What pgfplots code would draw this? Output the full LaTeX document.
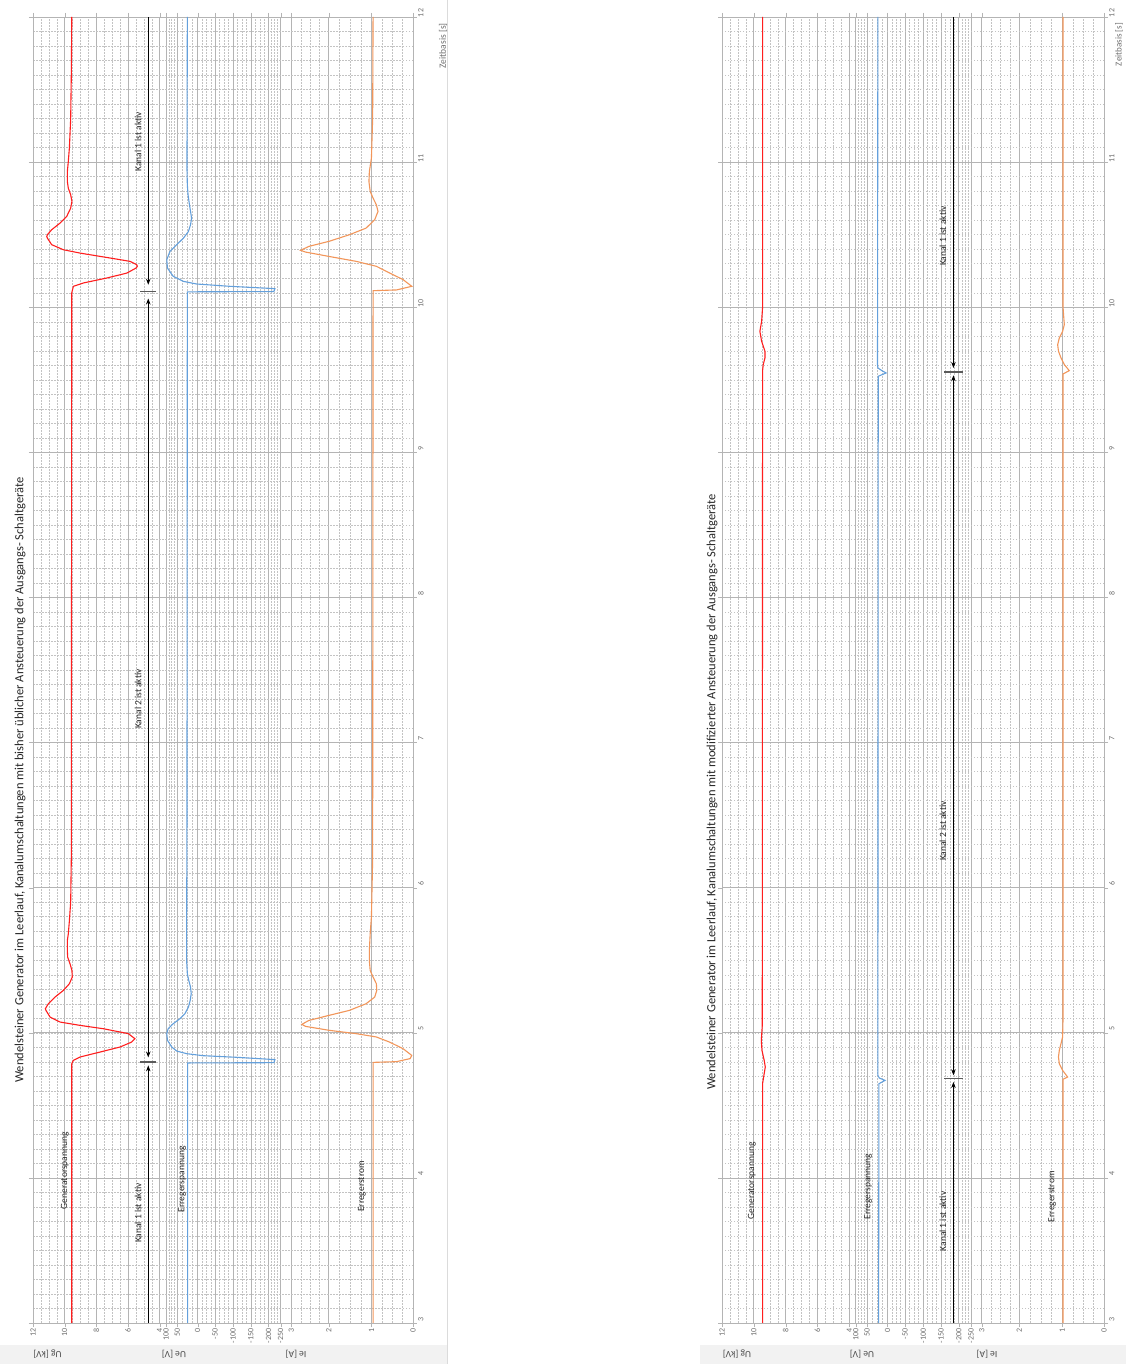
\documentclass[border=0pt]{standalone}
\usepackage{pgfplots}
\pgfplotsset{compat=1.18}
\usepackage{pgfplotstable}
\usepackage{fontspec}
\setmainfont{Carlito}
\usetikzlibrary{arrows.meta}
\definecolor{ugred}{RGB}{255,30,30}
\definecolor{ueblue}{RGB}{100,160,220}
\definecolor{ieorange}{RGB}{242,150,90}
\definecolor{gridmaj}{RGB}{180,180,180}
\definecolor{gridmin}{RGB}{195,195,195}
\definecolor{ticktext}{RGB}{110,110,110}
\definecolor{barcol}{RGB}{90,90,90}
\definecolor{framegray}{RGB}{242,242,242}

% ---------- left chart data ----------
\pgfplotstableread{
t v
3.000 9.55
4.787 9.55
4.810 9.45
4.833 9.03
4.867 7.77
4.902 6.50
4.936 5.77
4.959 5.56
4.994 5.98
5.028 7.56
5.051 9.03
5.074 10.29
5.108 10.92
5.154 11.18
5.166 11.22
5.200 11.03
5.246 10.61
5.292 10.08
5.338 9.70
5.384 9.52
5.429 9.54
5.475 9.66
5.521 9.81
5.567 9.83
5.636 9.83
5.682 9.77
5.774 9.70
5.900 9.62
6.200 9.58
10.100 9.55
10.144 9.45
10.167 8.82
10.201 7.35
10.235 6.08
10.270 5.49
10.282 5.41
10.293 5.45
10.316 5.87
10.339 7.13
10.373 9.03
10.396 10.08
10.431 10.82
10.476 11.09
10.488 11.13
10.500 11.09
10.534 10.82
10.580 10.29
10.626 9.87
10.683 9.62
10.729 9.54
10.775 9.62
10.820 9.77
10.866 9.83
10.935 9.83
11.004 9.77
11.100 9.70
11.300 9.62
11.600 9.58
12.000 9.55
}\lUg

\pgfplotstableread{
t v
3.000 29
4.792 29
4.794 -214
4.815 -217
4.831 -109
4.842 -15
4.856 32
4.874 60
4.902 74
4.948 86
4.994 88
5.028 84
5.062 70
5.097 51
5.131 37
5.177 27
5.223 22
5.269 19
5.315 21
5.361 26
5.407 30
5.498 32
5.682 32
6.500 31
10.106 30
10.108 -214
10.128 -217
10.144 -90
10.160 4
10.178 41
10.213 70
10.270 86
10.327 88
10.385 79
10.431 60
10.476 41
10.522 27
10.568 21
10.614 18
10.660 21
10.706 24
10.775 28
10.843 30
10.958 31
12.000 30
}\lUe

\pgfplotstableread{
t v
3.000 0.97
4.796 0.97
4.801 0.40
4.822 0.07
4.844 0.03
4.890 0.24
4.936 0.57
4.971 0.89
4.994 1.38
5.017 2.04
5.044 2.61
5.058 2.70
5.085 2.53
5.120 2.04
5.154 1.55
5.200 1.14
5.246 0.93
5.292 0.88
5.338 0.89
5.384 0.97
5.429 1.04
5.498 1.06
5.567 1.06
5.682 1.04
5.797 1.01
6.200 0.98
10.114 0.97
10.119 0.40
10.144 0.03
10.190 0.24
10.236 0.57
10.282 0.89
10.316 1.38
10.350 2.04
10.380 2.61
10.392 2.73
10.419 2.53
10.454 2.04
10.499 1.55
10.545 1.14
10.603 0.93
10.660 0.85
10.706 0.89
10.752 0.97
10.798 1.04
10.866 1.07
10.935 1.06
11.027 1.01
11.300 0.98
12.000 0.97
}\lIe

% ---------- right chart data ----------
\pgfplotstableread{
t v
3.000 9.45
4.650 9.45
4.718 9.35
4.764 9.28
4.810 9.35
4.879 9.49
4.948 9.53
5.050 9.47
9.563 9.45
9.605 9.41
9.651 9.30
9.697 9.30
9.765 9.51
9.834 9.62
9.903 9.51
10.000 9.45
12.000 9.45
}\rUg

\pgfplotstableread{
t v
3.000 26
4.649 25
4.672 8
4.688 24
4.707 28
9.524 27
9.547 5
9.563 17
9.582 28
9.605 29
12.000 28
}\rUe

\pgfplotstableread{
t v
3.000 0.99
4.680 0.99
4.695 0.88
4.741 1.00
4.787 1.08
4.833 1.10
4.879 1.08
4.925 1.04
4.971 1.00
5.100 0.99
9.540 0.99
9.563 0.84
9.605 0.96
9.651 1.04
9.697 1.10
9.742 1.12
9.788 1.08
9.834 1.00
9.880 0.96
10.000 0.99
12.000 0.99
}\rIe

\pgfplotsset{
  rotchart/.style={
    scale only axis, height=1306pt,
    xmin=0, xmax=12, ymin=3, ymax=12, x dir=reverse,
    axis line style={gridmaj},
    xtick={12,11,10,9,8,7.8,7.44,6.8,6.25,5.68,5.12,4.56,4.18,3.84,2.66,1.31,0},
    xticklabels={12,10,8,6,4,100,50,0,-50,-100,-150,-200,-250,3,2,1,0},
    xticklabel style={rotate=90, anchor=east, font=\fontsize{8}{9}\selectfont, text=ticktext, inner sep=1.5pt},
    major tick length=4pt, tick align=outside,
    major tick style={gridmaj},
    xmajorgrids=true,
    minor xtick={0.3275,0.655,0.9825,1.6475,1.985,2.3225,2.955,3.25,3.545,4.275,4.37,4.465,4.70,4.84,4.98,5.26,5.40,5.54,5.8225,5.965,6.1075,6.3875,6.525,6.6625,6.96,7.12,7.28,7.53,7.62,7.71,8.25,8.5,8.75,9.25,9.5,9.75,10.25,10.5,10.75,11.25,11.5,11.75},
    minor tick length=0pt,
    xminorgrids=true,
    ytick={3,4,...,12},
    ymajorgrids=true,
    minor ytick={3,3.1,...,12},
    yminorgrids=true,
    major grid style={gridmaj, line width=0.7pt},
    minor grid style={gridmin, line width=0.4pt, dash pattern=on 1.5pt off 1.5pt},
    yticklabel pos=right,
    yticklabel style={rotate=90, anchor=north, font=\fontsize{8}{9}\selectfont, text=ticktext, inner sep=1pt, xshift=4pt},
    /pgf/number format/assume math mode=true,
    clip=false,
  },
  uglin/.style={ugred, line width=1.1pt},
  uelin/.style={ueblue, line width=1.1pt},
  ielin/.style={ieorange, line width=1.1pt},
}
\tikzset{
  lab/.style={rotate=90, font=\fontsize{9.5}{11}\selectfont, text=black!85},
  mk/.style={black, line width=0.8pt},
}

\begin{document}
\begin{tikzpicture}[x=1pt,y=1pt]
\useasboundingbox (0,0) rectangle (1126,1364);
\fill[white] (0,0) rectangle (1126,1364);
% chart frames
\fill[framegray] (0,0) rectangle (447,19);
\fill[framegray] (700,0) rectangle (1126,19);
\draw[framegray!80!gray, line width=0.8pt] (447,0) -- (447,1364);

% ================= LEFT CHART =================
\begin{axis}[rotchart, width=380pt, at={(33pt,41pt)}, anchor=south west]
\addplot[uglin] table[x expr=6+\thisrow{v}/2, y=t]{\lUg};
\addplot[uelin] table[x expr=6.79+0.0112*\thisrow{v}, y=t]{\lUe};
\addplot[ielin] table[x expr=1.3*\thisrow{v}, y=t]{\lIe};
% channel markers
\draw[mk, -{Stealth[length=6pt,width=4.5pt]}] (axis cs:8.36,3) -- (axis cs:8.36,4.775);
\draw[mk, {Stealth[length=6pt,width=4.5pt]}-{Stealth[length=6pt,width=4.5pt]}] (axis cs:8.36,4.83) -- (axis cs:8.36,10.06);
\draw[mk, {Stealth[length=6pt,width=4.5pt]}-] (axis cs:8.36,10.155) -- (axis cs:8.36,12);
\draw[barcol, line width=1.5pt] (axis cs:8.62,4.797) -- (axis cs:8.1,4.797);
\draw[barcol, line width=1.5pt] (axis cs:8.62,10.11) -- (axis cs:8.1,10.11);
\node[lab] at (axis cs:8.68,3.757) {Kanal 1 ist aktiv};
\node[lab] at (axis cs:8.68,7.30) {Kanal 2 ist aktiv};
\node[lab] at (axis cs:8.68,11.14) {Kanal 1 ist aktiv};
\node[lab] at (axis cs:10.99,4.05) {Generatorspannung};
\node[lab] at (axis cs:7.29,3.99) {Erregerspannung};
\node[lab] at (axis cs:1.61,3.94) {Erregerstrom};
\end{axis}

% ================= RIGHT CHART =================
\begin{axis}[rotchart, width=382pt, at={(722pt,41pt)}, anchor=south west]
\addplot[uglin] table[x expr=6+\thisrow{v}/2, y=t]{\rUg};
\addplot[uelin] table[x expr=6.79+0.0112*\thisrow{v}, y=t]{\rUe};
\addplot[ielin] table[x expr=1.3*\thisrow{v}, y=t]{\rIe};
\draw[mk, -{Stealth[length=6pt,width=4.5pt]}] (axis cs:4.73,3) -- (axis cs:4.73,4.661);
\draw[mk, {Stealth[length=6pt,width=4.5pt]}-{Stealth[length=6pt,width=4.5pt]}] (axis cs:4.73,4.707) -- (axis cs:4.73,9.531);
\draw[mk, {Stealth[length=6pt,width=4.5pt]}-] (axis cs:4.73,9.581) -- (axis cs:4.73,12);
\draw[barcol, line width=1.5pt] (axis cs:5.02,4.684) -- (axis cs:4.44,4.684);
\draw[barcol, line width=1.5pt] (axis cs:5.02,9.554) -- (axis cs:4.44,9.554);
\node[lab] at (axis cs:5.06,3.70) {Kanal 1 ist aktiv};
\node[lab] at (axis cs:5.06,6.39) {Kanal 2 ist aktiv};
\node[lab] at (axis cs:5.06,10.49) {Kanal 1 ist aktiv};
\node[lab] at (axis cs:11.06,3.98) {Generatorspannung};
\node[lab] at (axis cs:7.41,3.94) {Erregerspannung};
\node[lab] at (axis cs:1.63,3.87) {Erregerstrom};
\end{axis}

% titles
\node[rotate=90, font=\fontsize{12.5}{14}\selectfont, text=black!85] at (20,584) {Wendelsteiner Generator im Leerlauf, Kanalumschaltungen mit bisher üblicher Ansteuerung der Ausgangs- Schaltgeräte};
\node[rotate=90, font=\fontsize{12.5}{14}\selectfont, text=black!85] at (712,572) {Wendelsteiner Generator im Leerlauf, Kanalumschaltungen mit modifizierter Ansteuerung der Ausgangs- Schaltgeräte};
% axis titles (upside down)
\foreach \xx/\tt in {47.5/{Ug [kV]},174/{Ue [V]},296/{Ie [A]},737/{Ug [kV]},862/{Ue [V]},987/{Ie [A]}}{
  \node[rotate=180, font=\fontsize{9.5}{11}\selectfont, text=black!70] at (\xx,10) {\tt};
}
\node[rotate=90, anchor=east, inner sep=0pt, font=\fontsize{9.5}{11}\selectfont, text=ticktext] at (443,1341) {Zeitbasis [s]};
\node[rotate=90, anchor=east, inner sep=0pt, font=\fontsize{9}{10}\selectfont, text=ticktext] at (1119,1341) {Zeitbasis [s]};
\end{tikzpicture}
\end{document}
